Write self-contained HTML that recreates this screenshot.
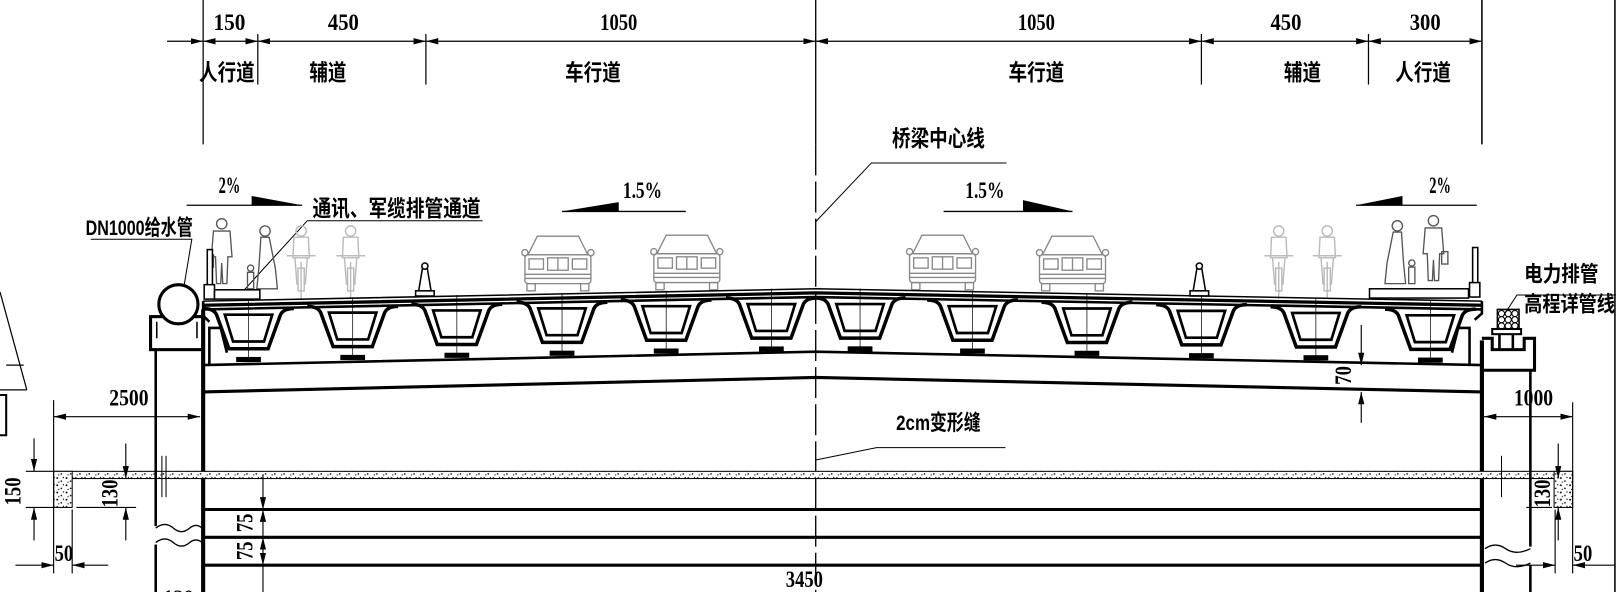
<!DOCTYPE html>
<html><head><meta charset="utf-8">
<style>
html,body{margin:0;padding:0;background:#fff;}
svg{display:block;}
text{font-family:"Liberation Serif","Noto Serif CJK SC","Noto Sans CJK SC",serif;fill:#000;font-weight:bold;}
.cn{font-family:"Liberation Sans","Noto Sans CJK SC",sans-serif;font-weight:bold;}
</style></head>
<body>
<svg width="1617" height="592" viewBox="0 0 1568 574" preserveAspectRatio="none" xmlns="http://www.w3.org/2000/svg">
<defs>
<marker id="a" viewBox="0 0 12 6" refX="12" refY="3" markerWidth="12" markerHeight="6" markerUnits="userSpaceOnUse" orient="auto-start-reverse"><path d="M0,0L12,3L0,6z" fill="#000"/></marker>
<pattern id="dots" width="9" height="7" patternUnits="userSpaceOnUse"><rect width="9" height="7" fill="#fff"/><circle cx="1.5" cy="1.5" r="0.9" fill="#000"/><circle cx="5.5" cy="4.5" r="0.8" fill="#000"/><circle cx="7.5" cy="1" r="0.6" fill="#000"/><circle cx="3" cy="5.5" r="0.6" fill="#000"/></pattern>
<g id="box">
<path d="M-44,0 Q-34,0 -31,6 L-19,39 L19,39 L31,6 Q34,0 44,0" fill="none" stroke="#000" stroke-width="3.4"/>
<path d="M-23,6 L-15,32 L15,32 L23,6 Z" fill="none" stroke="#000" stroke-width="2.6"/>
<line x1="0" y1="-9" x2="0" y2="50" stroke="#000" stroke-width="0.7"/>
<rect x="-12" y="47" width="24" height="5" fill="#000"/>
</g>
<g id="car" fill="none" stroke="#888" stroke-width="1.3">
<path d="M14,0 L54,0 L63,18 L5,18 Z"/>
<rect x="2" y="18" width="64" height="28" rx="3"/>
<circle cx="2" cy="16" r="3"/><circle cx="66" cy="16" r="3"/>
<rect x="6" y="22" width="14" height="10"/><rect x="48" y="22" width="14" height="10"/>
<rect x="24" y="21" width="20" height="12"/><line x1="34" y1="21" x2="34" y2="33"/>
<line x1="2" y1="37" x2="66" y2="37"/><line x1="2" y1="41" x2="66" y2="41"/>
<rect x="4" y="46" width="8" height="7"/><rect x="56" y="46" width="8" height="7"/>
</g>
<g id="bike" fill="none" stroke="#bbb" stroke-width="1.4">
<circle cx="0" cy="4" r="5"/><path d="M-7,10 L-8,30 L8,30 L7,10 Z"/><path d="M-14,28 L14,28"/>
<path d="M-6,30 L-4,56 M6,30 L4,56 M0,34 L0,70"/><path d="M-3,40 L3,40 L3,62 L-3,62 Z"/>
</g>
<g id="man" fill="none" stroke="#555" stroke-width="1.3">
<circle cx="0" cy="4" r="5"/><path d="M-8,11 L8,11 L10,36 L6,36 L5,62 L1,62 L0,42 L-1,62 L-5,62 L-6,36 L-10,36 Z"/><rect x="-14" y="34" width="6" height="12"/>
</g>
<g id="woman" fill="none" stroke="#555" stroke-width="1.3">
<circle cx="0" cy="4" r="5"/><path d="M-4,10 L4,10 L10,40 L12,60 L-8,60 L-6,40 Z"/><circle cx="-14" cy="40" r="3"/><path d="M-17,44 L-11,44 L-11,60 L-17,60 Z"/>
</g>
</defs>

<line x1="1566" y1="0" x2="1566" y2="574" stroke="#000" stroke-width="1.5"/>

<g stroke="#000" stroke-width="1.2">
<line x1="197" y1="0" x2="197" y2="140"/>
<line x1="250" y1="33" x2="250" y2="82"/>
<line x1="413" y1="33" x2="413" y2="82"/>
<line x1="1165" y1="33" x2="1165" y2="82"/>
<line x1="1327" y1="33" x2="1327" y2="82"/>
<line x1="1437" y1="0" x2="1437" y2="140" stroke-width="1.5"/>
<line x1="162" y1="40" x2="197" y2="40" marker-end="url(#a)"/>
<line x1="197" y1="40" x2="250" y2="40" marker-start="url(#a)" marker-end="url(#a)"/>
<line x1="250" y1="40" x2="413" y2="40" marker-start="url(#a)" marker-end="url(#a)"/>
<line x1="413" y1="40" x2="791" y2="40" marker-start="url(#a)" marker-end="url(#a)"/>
<line x1="791" y1="40" x2="1165" y2="40" marker-start="url(#a)" marker-end="url(#a)"/>
<line x1="1165" y1="40" x2="1327" y2="40" marker-start="url(#a)" marker-end="url(#a)"/>
<line x1="1327" y1="40" x2="1437" y2="40" marker-start="url(#a)" marker-end="url(#a)"/>
</g>
<g font-size="23">
<text x="207" y="29" textLength="31" lengthAdjust="spacingAndGlyphs">150</text>
<text x="318" y="29" textLength="30" lengthAdjust="spacingAndGlyphs">450</text>
<text x="582" y="29" textLength="36" lengthAdjust="spacingAndGlyphs">1050</text>
<text x="987" y="29" textLength="36" lengthAdjust="spacingAndGlyphs">1050</text>
<text x="1232" y="29" textLength="30" lengthAdjust="spacingAndGlyphs">450</text>
<text x="1367" y="29" textLength="30" lengthAdjust="spacingAndGlyphs">300</text>
</g>
<g font-size="22">
<text class="cn" x="193" y="78" textLength="54" lengthAdjust="spacingAndGlyphs">人行道</text>
<text class="cn" x="300" y="78" textLength="36" lengthAdjust="spacingAndGlyphs">辅道</text>
<text class="cn" x="548" y="78" textLength="54" lengthAdjust="spacingAndGlyphs">车行道</text>
<text class="cn" x="978" y="78" textLength="54" lengthAdjust="spacingAndGlyphs">车行道</text>
<text class="cn" x="1245" y="78" textLength="36" lengthAdjust="spacingAndGlyphs">辅道</text>
<text class="cn" x="1353" y="78" textLength="54" lengthAdjust="spacingAndGlyphs">人行道</text>
</g>

<line x1="791" y1="0" x2="791" y2="140" stroke="#000" stroke-width="1.3"/>
<line x1="791" y1="140" x2="791" y2="574" stroke="#000" stroke-width="1.3" stroke-dasharray="30,6"/>
<text class="cn" x="865" y="142" font-size="22" textLength="90" lengthAdjust="spacingAndGlyphs">桥梁中心线</text>
<polyline points="976,158 845,158 791,215" fill="none" stroke="#000" stroke-width="1"/>

<g font-size="22">
<text x="212" y="187" textLength="21" lengthAdjust="spacingAndGlyphs">2%</text>
<text x="604" y="192" textLength="38" lengthAdjust="spacingAndGlyphs">1.5%</text>
<text x="936" y="192" textLength="38" lengthAdjust="spacingAndGlyphs">1.5%</text>
<text x="1386" y="187" textLength="21" lengthAdjust="spacingAndGlyphs">2%</text>
</g>
<g stroke="#000" stroke-width="1.3">
<line x1="181" y1="199" x2="293" y2="199"/>
<line x1="545" y1="205" x2="665" y2="205"/>
<line x1="915" y1="205" x2="1040" y2="205"/>
<line x1="1315" y1="199" x2="1432" y2="199"/>
</g>
<path d="M244,190 L244,199 L293,199 Z M600,196 L600,205 L545,205 Z M992,194 L992,205 L1040,205 Z M1360,190 L1360,199 L1315,199 Z" fill="#000"/>

<text class="cn" x="83" y="228" font-size="21" textLength="104" lengthAdjust="spacingAndGlyphs">DN1000给水管</text>
<polyline points="88,232 186,232 176,292" fill="none" stroke="#000" stroke-width="1"/>
<text class="cn" x="303" y="210" font-size="22" textLength="163" lengthAdjust="spacingAndGlyphs">通讯、军缆排管通道</text>
<polyline points="468,214 298,214 236,282" fill="none" stroke="#000" stroke-width="1"/>
<text class="cn" x="1478" y="273" font-size="21" textLength="72" lengthAdjust="spacingAndGlyphs">电力排管</text>
<text class="cn" x="1478" y="302" font-size="21" textLength="88" lengthAdjust="spacingAndGlyphs">高程详管线</text>
<polyline points="1567,286 1471,286 1458,306" fill="none" stroke="#000" stroke-width="1"/>
<text class="cn" x="869" y="417" font-size="21" textLength="82" lengthAdjust="spacingAndGlyphs">2cm变形缝</text>
<polyline points="975,434 850,434 791,446" fill="none" stroke="#000" stroke-width="1"/>

<use href="#man" x="215" y="213"/>
<use href="#woman" x="257" y="220"/>
<use href="#bike" x="292" y="220"/>
<use href="#bike" x="340" y="220"/>
<use href="#bike" x="1240" y="220"/>
<use href="#bike" x="1287" y="220"/>
<use href="#woman" x="1355" y="215" transform="translate(2710,0) scale(-1,1)"/>
<use href="#man" x="1390" y="210" transform="translate(2780,0) scale(-1,1)"/>
<use href="#car" x="507" y="229"/>
<use href="#car" x="632" y="228"/>
<use href="#car" x="880" y="228"/>
<use href="#car" x="1006" y="229"/>

<g fill="#fff" stroke="#000" stroke-width="1.5">
<rect x="201" y="242" width="5" height="36"/><rect x="198" y="276" width="10" height="14"/>
<rect x="1428" y="240" width="5" height="36"/><rect x="1425" y="274" width="10" height="14"/>
<path d="M410,258 L414,258 L418,282 L406,282 Z"/><circle cx="412" cy="258" r="3"/><rect x="403" y="282" width="18" height="5"/>
<path d="M1161,258 L1165,258 L1169,282 L1157,282 Z"/><circle cx="1163" cy="258" r="3"/><rect x="1154" y="282" width="18" height="5"/>
<rect x="208" y="281" width="44" height="9"/>
<rect x="1328" y="280" width="96" height="9"/>
</g>

<polyline points="197,292 791,280 1437,292" fill="none" stroke="#000" stroke-width="1.5"/>
<polyline points="197,296 791,284 1437,296" fill="none" stroke="#000" stroke-width="3.2"/>
<polyline points="197,300 791,288 1437,300" fill="none" stroke="#000" stroke-width="2.5"/>
<path d="M197,292 L197,306 L203,312 M1437,292 L1437,304 L1430,310" fill="none" stroke="#000" stroke-width="2.5"/>
<path d="M203,354 L203,318 L214,318 L220,342" fill="none" stroke="#000" stroke-width="2.5"/>
<path d="M1425,354 L1425,318 L1414,318 L1408,342" fill="none" stroke="#000" stroke-width="2.5"/>

<use href="#box" transform="translate(241,299.1)"/>
<use href="#box" transform="translate(342,297.1)"/>
<use href="#box" transform="translate(443,295)"/>
<use href="#box" transform="translate(545,293)"/>
<use href="#box" transform="translate(646,290.9)"/>
<use href="#box" transform="translate(748,288.9)"/>
<use href="#box" transform="translate(834,288.8)"/>
<use href="#box" transform="translate(943,290.9)"/>
<use href="#box" transform="translate(1054,293.1)"/>
<use href="#box" transform="translate(1165,295.4)"/>
<use href="#box" transform="translate(1276,297.4)"/>
<use href="#box" transform="translate(1387,299.7)"/>

<polyline points="197,354 791,341 1437,354" fill="none" stroke="#000" stroke-width="2.5"/>
<polyline points="197,380 791,366 1437,380" fill="none" stroke="#000" stroke-width="3"/>
<line x1="197" y1="300" x2="197" y2="574" stroke="#000" stroke-width="4"/>
<line x1="1437" y1="330" x2="1437" y2="574" stroke="#000" stroke-width="4"/>

<rect x="52" y="457" width="1473" height="7" fill="url(#dots)" stroke="#000" stroke-width="1"/>
<rect x="52" y="457" width="18" height="35" fill="url(#dots)" stroke="#000" stroke-width="1"/>
<rect x="1507" y="457" width="18" height="35" fill="url(#dots)" stroke="#000" stroke-width="1"/>

<g stroke="#000" stroke-width="3">
<line x1="197" y1="494" x2="1437" y2="494"/>
<line x1="197" y1="521" x2="1437" y2="521"/>
<line x1="197" y1="548" x2="1437" y2="548"/>
</g>

<g fill="none" stroke="#000">
<rect x="146" y="307" width="51" height="32" stroke-width="3"/>
<path d="M152,328 L152,312 M191,328 L191,312" stroke-width="1.5"/>
<circle cx="173" cy="295" r="19" stroke-width="3" fill="#fff"/>
<line x1="151" y1="339" x2="151" y2="510" stroke-width="2.5"/>
<line x1="151" y1="528" x2="151" y2="574" stroke-width="2.5"/>
<path d="M151,512 Q160,505 168,512 Q176,519 184,512 Q190,507 196,512 M151,526 Q160,519 168,526 Q176,533 184,526 Q190,521 196,526" stroke-width="1.3"/>
<line x1="157" y1="442" x2="157" y2="482" stroke-width="1"/><line x1="161" y1="442" x2="161" y2="482" stroke-width="1"/>
</g>
<text x="158" y="586" font-size="20">120</text>

<g fill="none" stroke="#000">
<path d="M1437,328 L1447,328 L1447,339 L1478,339 L1478,328 L1488,328 L1488,359 L1437,359" stroke-width="3"/>
<line x1="1484" y1="359" x2="1484" y2="530" stroke-width="2.5"/>
<line x1="1484" y1="548" x2="1484" y2="574" stroke-width="2.5"/>
<path d="M1440,532 Q1450,525 1460,532 Q1470,539 1484,532 M1440,546 Q1450,539 1460,546 Q1470,553 1484,546" stroke-width="1.3"/>
<rect x="1447" y="319" width="28" height="5" stroke-width="2"/>
<path d="M1454,324 L1454,339 M1467,324 L1467,339" stroke-width="2.5"/>
<rect x="1452" y="300" width="21" height="19" stroke-width="1.5"/>
<circle cx="1456" cy="304" r="3" stroke-width="1"/><circle cx="1462.5" cy="304" r="3" stroke-width="1"/><circle cx="1469" cy="304" r="3" stroke-width="1"/>
<circle cx="1456" cy="310" r="3" stroke-width="1"/><circle cx="1462.5" cy="310" r="3" stroke-width="1"/><circle cx="1469" cy="310" r="3" stroke-width="1"/>
<circle cx="1456" cy="316" r="3" stroke-width="1"/><circle cx="1462.5" cy="316" r="3" stroke-width="1"/><circle cx="1469" cy="316" r="3" stroke-width="1"/>
<line x1="1456" y1="442" x2="1456" y2="482" stroke-width="1"/>
</g>

<g fill="none" stroke="#000" stroke-width="1.2">
<line x1="0" y1="283" x2="26" y2="378"/>
<line x1="6" y1="354" x2="23" y2="354"/>
<line x1="0" y1="378" x2="26" y2="378"/>
<path d="M0,383 L6,383 L6,422 L0,422" stroke-width="2"/>
</g>

<g stroke="#000" stroke-width="1.1" fill="none">
<line x1="52" y1="388" x2="52" y2="556"/>
<line x1="70" y1="494" x2="70" y2="556"/>
<line x1="52" y1="404" x2="194" y2="404" marker-start="url(#a)" marker-end="url(#a)"/>
<line x1="25" y1="457" x2="52" y2="457"/>
<line x1="25" y1="492" x2="52" y2="492"/>
<line x1="33" y1="425" x2="33" y2="457" marker-end="url(#a)"/>
<line x1="33" y1="524" x2="33" y2="492" marker-end="url(#a)"/>
<line x1="74" y1="492" x2="132" y2="492"/>
<line x1="122" y1="430" x2="122" y2="464" marker-end="url(#a)"/>
<line x1="122" y1="524" x2="122" y2="492" marker-end="url(#a)"/>
<line x1="15" y1="548" x2="52" y2="548" marker-end="url(#a)"/>
<line x1="105" y1="548" x2="70" y2="548" marker-end="url(#a)"/>
<line x1="255" y1="460" x2="255" y2="494" marker-end="url(#a)"/>
<line x1="255" y1="521" x2="255" y2="494" marker-end="url(#a)"/>
<line x1="255" y1="521" x2="255" y2="548" marker-start="url(#a)" marker-end="url(#a)"/>
<line x1="255" y1="548" x2="255" y2="574"/>
<line x1="1320" y1="315" x2="1320" y2="354" marker-end="url(#a)"/>
<line x1="1320" y1="410" x2="1320" y2="380" marker-end="url(#a)"/>
<line x1="1525" y1="390" x2="1525" y2="556"/>
<line x1="1508" y1="494" x2="1508" y2="556"/>
<line x1="1439" y1="404" x2="1525" y2="404" marker-start="url(#a)" marker-end="url(#a)"/>
<line x1="1480" y1="492" x2="1505" y2="492"/>
<line x1="1511" y1="430" x2="1511" y2="464" marker-end="url(#a)"/>
<line x1="1511" y1="524" x2="1511" y2="492" marker-end="url(#a)"/>
<line x1="1470" y1="548" x2="1508" y2="548" marker-end="url(#a)"/>
<line x1="1566" y1="548" x2="1525" y2="548" marker-end="url(#a)"/>
</g>
<g font-size="22">
<text x="106" y="393" textLength="38" lengthAdjust="spacingAndGlyphs">2500</text>
<text x="1468" y="393" textLength="38" lengthAdjust="spacingAndGlyphs">1000</text>
<text x="53" y="544" textLength="18" lengthAdjust="spacingAndGlyphs">50</text>
<text x="1526" y="544" textLength="18" lengthAdjust="spacingAndGlyphs">50</text>
<text x="762" y="569" textLength="36" lengthAdjust="spacingAndGlyphs">3450</text>
<text transform="translate(20,490) rotate(-90)" textLength="27" lengthAdjust="spacingAndGlyphs">150</text>
<text transform="translate(114,492) rotate(-90)" textLength="27" lengthAdjust="spacingAndGlyphs">130</text>
<text transform="translate(1503,492) rotate(-90)" textLength="27" lengthAdjust="spacingAndGlyphs">130</text>
<text transform="translate(245,516) rotate(-90)" textLength="18" lengthAdjust="spacingAndGlyphs">75</text>
<text transform="translate(245,543) rotate(-90)" textLength="18" lengthAdjust="spacingAndGlyphs">75</text>
<text transform="translate(1310,373) rotate(-90)" textLength="18" lengthAdjust="spacingAndGlyphs">70</text>
</g>
</svg>
</body></html>
